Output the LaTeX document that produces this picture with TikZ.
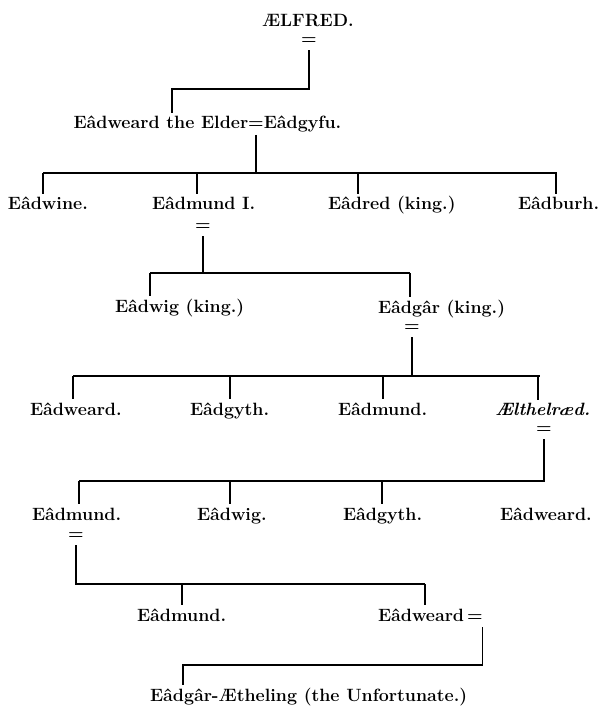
\documentclass[tikz,border=0pt]{standalone}
\usepackage{fontspec}

\begin{document}
\begin{tikzpicture}[x=1pt,y=-1pt,line width=1.2pt,
    every node/.style={font=\fontsize{17.8}{20}\selectfont\bfseries},
    person/.style={anchor=base west,inner sep=0pt,outer xsep=0pt,outer ysep=3pt},
    wedding/.style={inner sep=0pt,outer sep=0pt}]
    \fill[white] (0,0) rectangle (599,708);
    \path[use as bounding box] (0,0) rectangle (599,708);
    % Alfred.
    \node[person] (alfred) at (262,27) {ÆLFRED.};
    \node[wedding] (alfwed) at (309,41) {=};
    % Edward the Elder.
    \node[wedding,anchor=base] (elwed) at (256,129) {=};
    \node[person,anchor=base east] (elder) at (elwed.base west) {Eâdweard the Elder};
    \node[person] (gyfu) at (elwed.base east) {Eâdgyfu.};
    \draw[shorten <=6pt] (alfwed.south) |- (172,89) -- (172,89 |- elder.north);
    % His children.
    \node[person] (edwine) at (8,210) {Eâdwine.};
    \node[person] (edmund) at (152,210) {Eâdmund I.};
    \node[person] (edred) at (328,210) {Eâdred (king.)};
    \node[person] (edburh) at (518,210) {Eâdburh.};
    \draw[shorten <=6pt] (elwed.south) -- (elwed.south |- 0,173);
    \draw (43,173) -- (557,173);
    \foreach \x/\n in {43/edwine,197/edmund,358/edred,556/edburh}
    \draw (\x,173) -- (\x,173 |- \n.north);
    % Edmund's sons.
    \node[wedding] (edmwed) at (203,227) {=};
    \node[person] (edwig) at (115,312) {Eâdwig (king.)};
    \node[person] (edgar) at (378,313) {Eâdgâr (king.)};
    \draw[shorten <=6pt] (edmwed.south) -- (edmwed.south |- 0,273);
    \draw (150,273) -- (410,273);
    \foreach \x/\n in {150/edwig,410/edgar}
    \draw (\x,273) -- (\x,273 |- \n.north);
    % Edgar's children.
    \node[wedding] (edgwed) at (412,328) {=};
    \node[person] (edweard) at (30,415) {Eâdweard.};
    \node[person] (edgyth) at (190,415) {Eâdgyth.};
    \node[person] (edmundb) at (338,415) {Eâdmund.};
    \node[person] (ethelred) at (495,415) {\itshape Ælthelræd.};
    \draw[shorten <=6pt] (edgwed.south) -- (edgwed.south |- 0,376);
    \draw (73,376) -- (540,376);
    \foreach \x/\n in {73/edweard,230/edgyth,383/edmundb,538/ethelred}
    \draw (\x,376) -- (\x,376 |- \n.north);
    % Ethelred's children.
    \node[wedding] (ethwed) at (544,430) {=};
    \node[person] (edmundc) at (32,520) {Eâdmund.};
    \node[person] (edwigb) at (197,520) {Eâdwig.};
    \node[person] (edgythb) at (343,520) {Eâdgyth.};
    \node[person] (edweardb) at (500,520) {Eâdweard.};
    \draw[shorten <=6pt] (ethwed.south) |- (79,481);
    \foreach \x/\n in {79/edmundc,230/edwigb,382/edgythb}
    \draw (\x,481) -- (\x,481 |- \n.north);
    % Edmund Ironside's sons.
    \node[wedding] (edmwedb) at (76,536) {=};
    \node[person] (edmundd) at (137,621) {Eâdmund.};
    \node[person] (edweardc) at (378,621) {Eâdweard};
    \node[wedding,anchor=base west] (edwwed) at ([xshift=3pt]edweardc.base east) {=};
    \draw[shorten <=6pt] (edmwedb.south) |- (425,584);
    \foreach \x/\n in {182/edmundd,425/edweardc}
    \draw (\x,584) -- (\x,584 |- \n.north);
    % Edgar the Atheling.
    \node[person] (atheling) at (150,701) {Eâdgâr-Ætheling (the Unfortunate.)};
    \draw[shorten <=6pt] (edwwed.south east) |- (183,665) -- (183,665 |- atheling.north);
\end{tikzpicture}
\end{document}
